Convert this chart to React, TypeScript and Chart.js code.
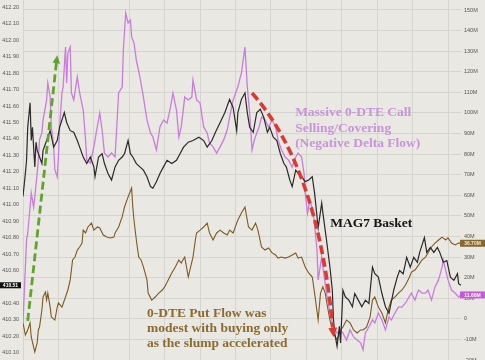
import React, { useEffect, useRef } from 'react';
import { Chart, registerables } from 'chart.js';

Chart.register(...registerables);

// ---- time axis (minutes since open) ----
const timeGridMinutes = [0, 30, 60, 90, 120, 150, 180, 210, 240, 270, 300, 330, 360];

// ---- MAG7 basket (left axis) ----
const mag7Minutes = [
  0, 2, 3, 4, 6, 7, 8, 10, 11, 12,
  14, 16, 17, 20, 23, 26, 29, 31, 35, 37,
  40, 43, 46, 48, 51, 54, 57, 60, 61, 64,
  67, 69, 72, 75, 78, 81, 84, 86, 89, 91,
  93, 96, 99, 102, 105, 108, 110, 113, 116, 119,
  122, 126, 130, 133, 136, 140, 144, 149, 153, 156,
  160, 163, 167, 171, 175, 178, 181, 182, 185, 188,
  190, 192, 195, 198, 201, 204, 207, 209, 212, 215,
  218, 221, 223, 226, 228, 231, 233, 236, 239, 242,
  245, 247, 250, 253, 254, 257, 260, 262, 263, 264,
  266, 268, 269, 271, 273, 276, 279, 281, 284, 287,
  290, 293, 296, 298, 301, 304, 307, 310, 314, 317,
  319, 322, 325, 328, 331, 334, 336, 340, 342, 345,
  348, 351, 353, 356, 359, 362, 365, 368, 369, 371,
];
const mag7Values = [
  411.05, 411.19, 411.27, 411.47, 411.62, 411.39, 411.47, 411.23, 411.38, 411.33,
  411.29, 411.25, 411.33, 411.39, 411.45, 411.35, 411.39, 411.47, 411.56, 411.50,
  411.45, 411.44, 411.39, 411.35, 411.29, 411.25, 411.29, 411.23, 411.17, 411.29,
  411.31, 411.25, 411.19, 411.15, 411.23, 411.27, 411.29, 411.31, 411.39, 411.31,
  411.29, 411.25, 411.23, 411.21, 411.17, 411.11, 411.10, 411.14, 411.19, 411.23,
  411.27, 411.25, 411.27, 411.31, 411.35, 411.38, 411.39, 411.41, 411.39, 411.35,
  411.39, 411.44, 411.50, 411.56, 411.64, 411.59, 411.45, 411.56, 411.64, 411.68,
  411.56, 411.47, 411.44, 411.56, 411.58, 411.53, 411.44, 411.47, 411.41, 411.39,
  411.31, 411.25, 411.23, 411.15, 411.11, 411.21, 411.19, 411.17, 411.14, 411.15,
  411.17, 411.07, 410.86, 411.01, 410.95, 410.79, 410.62, 410.48, 410.30, 410.22,
  410.14, 410.26, 410.16, 410.48, 410.44, 410.42, 410.38, 410.46, 410.42, 410.38,
  410.42, 410.40, 410.62, 410.58, 410.56, 410.46, 410.38, 410.34, 410.48, 410.56,
  410.60, 410.58, 410.68, 410.62, 410.68, 410.65, 410.71, 410.80, 410.71, 410.74,
  410.71, 410.74, 410.71, 410.65, 410.66, 410.56, 410.54, 410.58, 410.52, 410.51,
];

// ---- 0-DTE call flow, $M (right axis) ----
const callFlowMinutes = [
  0, 2, 3, 4, 6, 7, 9, 10, 12, 13,
  14, 16, 17, 19, 20, 21, 23, 24, 26, 27,
  29, 30, 31, 33, 34, 36, 37, 38, 40, 41,
  43, 46, 48, 51, 53, 54, 57, 60, 62, 65,
  67, 69, 72, 75, 78, 81, 84, 85, 87, 89,
  91, 92, 94, 96, 99, 102, 105, 108, 110, 113,
  116, 119, 122, 125, 127, 130, 132, 134, 137, 140,
  143, 144, 147, 150, 153, 156, 158, 161, 164, 167,
  170, 173, 175, 178, 181, 182, 185, 188, 190, 192,
  194, 196, 198, 200, 202, 205, 208, 211, 214, 216,
  219, 222, 225, 228, 231, 233, 236, 238, 239, 241,
  243, 246, 249, 250, 253, 254, 257, 260, 263, 266,
  269, 271, 274, 277, 280, 283, 286, 288, 290, 293,
  296, 298, 301, 304, 307, 310, 312, 315, 318, 321,
  324, 327, 329, 332, 335, 338, 341, 343, 346, 349,
  352, 355, 356, 358, 360, 363, 366, 369, 371,
];
const callFlowValues = [
  -2.0, 25.2, 38.3, 41.7, 54.3, 61.1, 54.3, 59.2, 70.8, 77.1,
  86.9, 90.3, 96.6, 102.9, 106.3, 114.5, 107.7, 93.2, 83.5, 72.3,
  68.9, 78.6, 93.2, 109.7, 112.6, 132.0, 114.5, 129.1, 132.0, 109.7,
  106.3, 117.5, 109.7, 101.4, 86.9, 77.1, 75.7, 83.5, 90.3, 100.0,
  91.7, 80.5, 78.6, 80.5, 78.6, 109.7, 112.6, 130.6, 148.5, 143.7,
  145.1, 136.9, 134.0, 125.7, 117.5, 107.7, 96.6, 90.3, 88.3, 82.0,
  93.2, 96.6, 95.1, 102.9, 109.7, 101.4, 88.3, 93.2, 107.7, 106.3,
  107.7, 116.0, 106.3, 104.8, 93.2, 90.3, 85.4, 83.5, 80.5, 83.5,
  86.9, 91.7, 98.0, 106.3, 111.1, 112.6, 119.4, 132.0, 112.6, 100.0,
  82.0, 86.9, 90.3, 93.2, 98.0, 96.6, 93.2, 96.6, 93.2, 86.9,
  82.0, 78.6, 77.1, 73.7, 78.6, 80.5, 78.6, 70.8, 61.1, 51.4,
  57.7, 51.4, 33.4, 18.9, 30.0, 25.2, 12.5, 2.8, -4.0, -6.9,
  -5.4, -6.9, -10.3, -5.4, -8.8, -10.3, -11.7, -15.1, -6.9, -4.0,
  -0.6, -2.0, 2.8, -0.6, -5.4, 0.9, -0.6, 2.8, 5.7, 5.7,
  7.7, 10.6, 12.5, 9.1, 14.0, 12.5, 12.5, 14.0, 9.1, 15.5,
  18.9, 25.2, 28.6, 23.7, 18.9, 14.0, 12.5, 10.6, 11.6,
];

// ---- 0-DTE put flow, $M (right axis) ----
const putFlowMinutes = [
  0, 2, 4, 6, 7, 9, 10, 12, 13, 14,
  16, 17, 19, 20, 21, 23, 24, 27, 29, 30,
  33, 36, 38, 40, 42, 44, 46, 48, 50, 51,
  53, 55, 58, 60, 63, 65, 68, 71, 74, 77,
  78, 81, 84, 86, 89, 92, 93, 94, 96, 98,
  100, 102, 105, 106, 109, 112, 115, 118, 120, 123,
  126, 129, 132, 134, 137, 140, 142, 144, 146, 147,
  150, 153, 156, 158, 161, 164, 167, 170, 173, 175,
  178, 181, 182, 185, 188, 191, 194, 197, 199, 202,
  205, 208, 211, 214, 216, 219, 222, 225, 228, 231,
  233, 236, 239, 242, 245, 247, 250, 252, 254, 256,
  258, 260, 263, 266, 269, 271, 274, 277, 280, 283,
  286, 288, 291, 294, 296, 298, 301, 304, 307, 308,
  310, 312, 315, 318, 321, 324, 327, 329, 332, 335,
  338, 341, 343, 346, 349, 352, 355, 358, 360, 363,
  366, 369, 371,
];
const putFlowValues = [
  -2.0, -7.9, -5.4, -2.0, -8.8, -13.7, -16.1, -11.7, -5.4, -4.0,
  4.3, 10.6, 13.0, 9.1, 12.5, 5.7, 0.9, -0.6, 5.7, 7.7,
  5.7, 10.6, 14.0, 18.9, 28.6, 30.0, 33.4, 34.9, 36.8, 43.1,
  41.7, 44.6, 46.5, 43.1, 44.6, 44.1, 40.7, 39.7, 39.3, 39.7,
  41.7, 44.6, 49.5, 54.3, 59.2, 63.5, 54.3, 48.0, 38.3, 30.0,
  28.6, 25.2, 18.9, 12.5, 9.1, 10.6, 12.5, 14.0, 15.5, 18.9,
  22.3, 25.2, 28.6, 27.1, 30.0, 20.3, 25.2, 30.0, 38.3, 41.7,
  43.1, 44.6, 46.5, 41.7, 38.3, 41.7, 43.1, 41.7, 40.7, 43.1,
  41.7, 46.5, 48.0, 51.4, 54.3, 44.6, 43.1, 46.5, 43.1, 34.9,
  33.4, 34.4, 32.0, 31.0, 29.5, 30.0, 29.5, 30.0, 31.0, 32.0,
  29.5, 30.0, 25.2, 22.3, 20.3, 12.5, -0.6, 12.5, 15.5, 12.5,
  5.7, -0.6, -6.9, -10.3, -5.4, -4.0, -0.6, -2.0, -5.4, -6.9,
  -5.4, -5.4, -4.0, 0.9, 9.1, 10.6, 5.7, 2.8, -2.0, 0.9,
  5.7, 9.1, 10.6, 12.5, 14.0, 16.4, 19.8, 22.7, 23.7, 26.1,
  28.6, 30.0, 32.0, 34.9, 36.8, 38.3, 39.7, 38.3, 39.3, 36.8,
  35.9, 36.8, 36.7,
];

// ---- axis ticks ----
const priceTicks = [
  410.1, 410.2, 410.3, 410.4, 410.5, 410.6, 410.7, 410.8, 410.9, 411.0, 411.1,
  411.2, 411.3, 411.4, 411.5, 411.6, 411.7, 411.8, 411.9, 412.0, 412.1, 412.2,
];
const flowTicks = [-20, -10, 0, 10, 20, 30, 40, 50, 60, 70, 80, 90, 100, 110, 120, 130, 140, 150];

// ---- annotation layout (in data units: minutes, $M) ----
const greenArrow = { from: [4, -1], to: [29, 128] };
const redArrow = { from: [194, 109.7], control: [251.7, 72.3], to: [263, -8.8] };
const notes = [
  { lines: ['Massive 0-DTE Call', 'Selling/Covering', '(Negative Delta Flow)'], at: [230.5, 100.0], color: '#c894da', spacing: 15.5 },
  { lines: ['MAG7 Basket'], at: [260.2, 46.1], color: '#151515', spacing: 15 },
  { lines: ['0-DTE Put Flow was', 'modest with buying only', 'as the slump accelerated'], at: [105, 2.8], color: '#8a6b30', spacing: 15 },
];

const BG = '#eae8e3';
const GRID = '#d6d4cf';
const BLACK = '#2a2a2a';
const PURPLE = '#c77ddc';
const BROWN = '#7a5b24';

function toPoints(xs: number[], ys: number[]) {
  const n = Math.min(xs.length, ys.length);
  const out: { x: number; y: number }[] = [];
  for (let i = 0; i < n; i++) out.push({ x: xs[i], y: ys[i] });
  return out;
}

function arrowHead(ctx: CanvasRenderingContext2D, tx: number, ty: number, dx: number, dy: number, len: number, half: number) {
  const d = Math.hypot(dx, dy);
  const ux = dx / d, uy = dy / d;
  const bx = tx - ux * len, by = ty - uy * len;
  ctx.beginPath();
  ctx.moveTo(tx, ty);
  ctx.lineTo(bx - uy * half, by + ux * half);
  ctx.lineTo(bx + uy * half, by - ux * half);
  ctx.closePath();
  ctx.fill();
}

const backgroundPlugin = {
  id: 'bg',
  beforeDraw(chart: any) {
    const { ctx } = chart;
    ctx.save();
    ctx.fillStyle = BG;
    ctx.fillRect(0, 0, chart.width, chart.height);
    ctx.restore();
  },
};

const annotationPlugin = {
  id: 'notes',
  afterDatasetsDraw(chart: any) {
    const { ctx, scales } = chart;
    const px = (m: number) => scales.x.getPixelForValue(m);
    const py = (v: number) => scales.y1.getPixelForValue(v);
    ctx.save();

    // green arrow
    {
      const x0 = px(greenArrow.from[0]), y0 = py(greenArrow.from[1]);
      const x1 = px(greenArrow.to[0]), y1 = py(greenArrow.to[1]);
      const dx = x1 - x0, dy = y1 - y0, d = Math.hypot(dx, dy);
      const len = 8;
      ctx.strokeStyle = '#62a32c';
      ctx.fillStyle = '#62a32c';
      ctx.lineWidth = 2.8;
      ctx.setLineDash([8, 4]);
      ctx.beginPath();
      ctx.moveTo(x0, y0);
      ctx.lineTo(x1 - (dx / d) * (len - 1), y1 - (dy / d) * (len - 1));
      ctx.stroke();
      ctx.setLineDash([]);
      arrowHead(ctx, x1, y1, dx, dy, len, 3.8);
    }

    // red curved arrow
    {
      const P0 = [px(redArrow.from[0]), py(redArrow.from[1])];
      const C = [px(redArrow.control[0]), py(redArrow.control[1])];
      const P2 = [px(redArrow.to[0]), py(redArrow.to[1])];
      const approx = Math.hypot(C[0] - P0[0], C[1] - P0[1]) + Math.hypot(P2[0] - C[0], P2[1] - C[1]);
      const len = 9;
      const t = 1 - (len - 1) / approx;
      const Cp = [P0[0] + t * (C[0] - P0[0]), P0[1] + t * (C[1] - P0[1])];
      const E = [
        (1 - t) * (1 - t) * P0[0] + 2 * (1 - t) * t * C[0] + t * t * P2[0],
        (1 - t) * (1 - t) * P0[1] + 2 * (1 - t) * t * C[1] + t * t * P2[1],
      ];
      ctx.strokeStyle = '#dc3934';
      ctx.fillStyle = '#dc3934';
      ctx.lineWidth = 3.6;
      ctx.setLineDash([9, 4]);
      ctx.beginPath();
      ctx.moveTo(P0[0], P0[1]);
      ctx.quadraticCurveTo(Cp[0], Cp[1], E[0], E[1]);
      ctx.stroke();
      ctx.setLineDash([]);
      arrowHead(ctx, P2[0], P2[1], P2[0] - C[0], P2[1] - C[1], len, 4.5);
    }

    // text notes
    ctx.font = 'bold 13.5px "Liberation Serif", "DejaVu Serif", serif';
    ctx.textAlign = 'left';
    ctx.textBaseline = 'middle';
    for (const n of notes) {
      const x = px(n.at[0]);
      const y = py(n.at[1]);
      ctx.fillStyle = n.color;
      n.lines.forEach((line, i) => ctx.fillText(line, x, y + i * n.spacing));
    }
    ctx.restore();
  },
};

const badgePlugin = {
  id: 'badges',
  afterDraw(chart: any) {
    const { ctx, scales, chartArea } = chart;
    const lastOf = (arr: number[]) => arr[arr.length - 1];
    ctx.save();
    ctx.font = 'bold 5px "Liberation Sans", Arial, sans-serif';
    ctx.textBaseline = 'middle';

    // left price badge
    const pv = lastOf(mag7Values);
    const yp = scales.y.getPixelForValue(pv);
    ctx.fillStyle = '#111';
    ctx.fillRect(0, yp - 3, chartArea.left - 2, 6);
    ctx.fillStyle = '#fff';
    ctx.textAlign = 'center';
    ctx.fillText(pv.toFixed(2), (chartArea.left - 2) / 2, yp + 0.3);

    // right flow badges
    const items = [
      { v: lastOf(putFlowValues), bg: '#87692f', fg: '#f3e6c8' },
      { v: lastOf(callFlowValues), bg: '#c35ad8', fg: '#ffffff' },
    ];
    for (const it of items) {
      const y = scales.y1.getPixelForValue(it.v);
      const x0 = chartArea.right - 1;
      ctx.fillStyle = it.bg;
      ctx.fillRect(x0, y - 3.5, chart.width - x0, 7);
      ctx.fillStyle = it.fg;
      ctx.textAlign = 'center';
      ctx.fillText(it.v.toFixed(2) + 'M', x0 + (chart.width - x0) / 2, y + 0.3);
    }
    ctx.restore();
  },
};

export default function App() {
  const canvasRef = useRef<HTMLCanvasElement | null>(null);

  useEffect(() => {
    const canvas = canvasRef.current;
    if (!canvas) return;
    const tickFont = { family: '"Liberation Sans", Arial, sans-serif', size: 5.5 };
    const chart = new Chart(canvas, {
      type: 'line',
      data: {
        datasets: [
          {
            label: 'MAG7 Basket',
            data: toPoints(mag7Minutes, mag7Values),
            yAxisID: 'y',
            borderColor: BLACK,
            borderWidth: 1.2,
            pointRadius: 0,
            tension: 0,
          },
          {
            label: '0-DTE Call Flow',
            data: toPoints(callFlowMinutes, callFlowValues),
            yAxisID: 'y1',
            borderColor: PURPLE,
            borderWidth: 1.3,
            pointRadius: 0,
            tension: 0,
          },
          {
            label: '0-DTE Put Flow',
            data: toPoints(putFlowMinutes, putFlowValues),
            yAxisID: 'y1',
            borderColor: BROWN,
            borderWidth: 1.1,
            pointRadius: 0,
            tension: 0,
          },
        ],
      },
      options: {
        responsive: false,
        animation: false,
        events: [],
        layout: { padding: 0 },
        plugins: { legend: { display: false }, tooltip: { enabled: false }, title: { display: false } },
        scales: {
          x: {
            type: 'linear',
            min: 0,
            max: 371,
            afterBuildTicks: (s: any) => { s.ticks = timeGridMinutes.map((v) => ({ value: v })); },
            afterFit: (s: any) => { s.height = 0; s.paddingLeft = 0; s.paddingRight = 0; s.paddingTop = 0; s.paddingBottom = 0; },
            ticks: { display: false },
            grid: { color: GRID, lineWidth: 1, drawTicks: false },
            border: { display: false },
          },
          y: {
            type: 'linear',
            position: 'left',
            min: 410.0558,
            max: 412.2444,
            afterBuildTicks: (s: any) => { s.ticks = priceTicks.map((v) => ({ value: v })); },
            afterFit: (s: any) => { s.width = 23; s.paddingTop = 0; s.paddingBottom = 0; },
            ticks: {
              font: tickFont,
              color: '#555',
              padding: 4,
              autoSkip: false,
              callback: (v: any) => Number(v).toFixed(2),
            },
            grid: { display: false, drawTicks: false },
            border: { display: false },
          },
          y1: {
            type: 'linear',
            position: 'right',
            min: -20,
            max: 154.857,
            afterBuildTicks: (s: any) => { s.ticks = flowTicks.map((v) => ({ value: v })); },
            afterFit: (s: any) => { s.width = 24; s.paddingTop = 0; s.paddingBottom = 0; },
            ticks: {
              font: tickFont,
              color: '#555',
              padding: 3,
              autoSkip: false,
              callback: (v: any) => (Number(v) === 0 ? '0' : `${v}M`),
            },
            grid: { color: GRID, lineWidth: 1, drawTicks: false },
            border: { display: false },
          },
        },
      },
      plugins: [backgroundPlugin, annotationPlugin, badgePlugin],
    } as any);
    return () => chart.destroy();
  }, []);

  return (
    <div style={{ position: 'fixed', left: 0, top: 0, width: 485, height: 360, background: BG }}>
      <canvas ref={canvasRef} width={485} height={360} style={{ display: 'block', width: 485, height: 360 }} />
    </div>
  );
}
